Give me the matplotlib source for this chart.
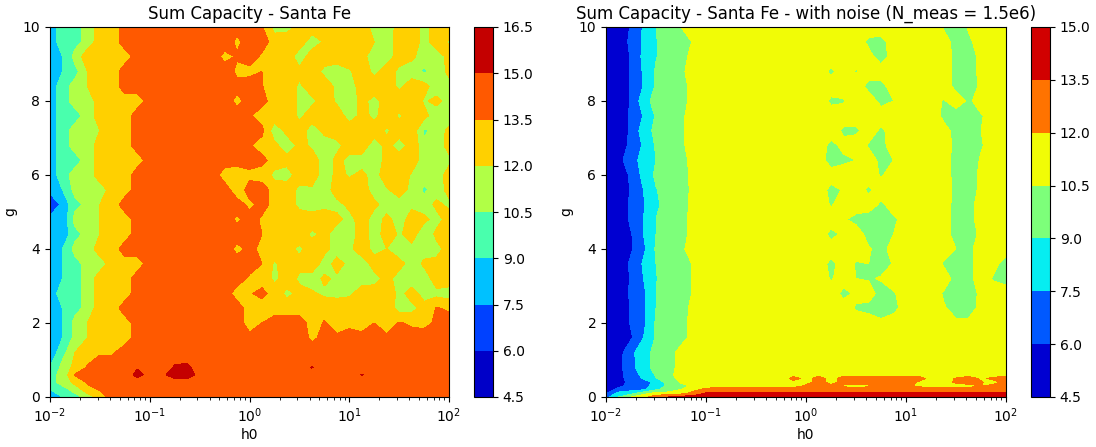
"""Sum capacity contour maps (Santa Fe), without and with measurement noise."""
import numpy as np
import matplotlib
matplotlib.use("Agg")
import matplotlib.pyplot as plt  # noqa: E402

h0_exp = [-2.0, -1.875, -1.75, -1.625, -1.5, -1.375, -1.25, -1.125, -1.0, -0.875, -0.75,
          -0.625, -0.5, -0.375, -0.25, -0.125, 0.0, 0.125, 0.25, 0.375, 0.5, 0.625, 0.75,
          0.875, 1.0, 1.125, 1.25, 1.375, 1.5, 1.625, 1.75, 1.875, 2.0]

levels_clean = [4.5, 6.0, 7.5, 9.0, 10.5, 12.0, 13.5, 15.0, 16.5]
levels_noisy = [4.5, 6.0, 7.5, 9.0, 10.5, 12.0, 13.5, 15.0]

g_clean = [10, 9.6, 9.2, 8.8, 8.4, 8.0, 7.6, 7.2, 6.8, 6.4, 6.0, 5.6, 5.2, 4.8, 4.4, 4.0,
           3.6, 3.2, 2.8, 2.4, 2.0, 1.6, 1.2, 0.8, 0.6, 0.4, 0.2, 0]
capacity_clean = [
    [8, 10, 10, 11, 13, 13, 14, 14, 14, 14, 14, 14, 14, 14, 14, 13.8, 14, 13.6, 11.3, 11.4, 12.5, 13, 13, 13, 12, 13, 11.2, 11.2, 12.6, 13, 11.3, 13, 13],
    [8, 10, 10, 11, 13, 13, 14, 14, 14, 14, 14, 14, 14, 14, 14, 13.3, 14, 14, 13, 13, 13, 11, 12.2, 13, 13, 13, 12, 11.4, 12.6, 13, 11.3, 13, 11.8],
    [8, 9, 11, 13, 13, 13, 13, 14, 14, 14, 14, 14, 14, 14, 13.2, 13.6, 14, 13.3, 13, 13, 11, 13, 13, 13, 13, 12.4, 11.3, 11, 13, 12.4, 11, 11, 12.6],
    [8, 9, 10, 12, 13, 13, 14, 14, 14, 14, 14, 14, 14, 14, 14, 13.3, 13.2, 13.5, 13, 13, 12.5, 13, 11.5, 11, 11.8, 13, 11.5, 13, 11.5, 11, 10.3, 11, 12.5],
    [8, 10, 11, 12, 13, 13, 14, 14, 14, 14, 14, 14, 14, 14, 14, 13.8, 14, 13.6, 11.9, 13, 11.7, 13, 13, 11.5, 11, 13, 13, 13, 11.6, 13, 12.6, 11, 11.2],
    [8, 10, 11, 11, 13, 13, 13, 13, 14, 14, 14, 14, 14, 14, 14, 13.2, 14, 13.8, 13, 13, 11.6, 11.5, 13, 11.7, 11, 12.5, 11.4, 12.8, 13, 13, 11.8, 12.5, 11],
    [8, 10, 10, 11, 13, 13, 13, 14, 14, 14, 14, 14, 14, 14, 14, 14, 13.6, 13, 13, 13, 11.6, 13, 13, 13, 11.2, 12.5, 11.6, 13, 11.7, 13, 12.5, 11, 10.5],
    [8, 10, 11, 11, 12, 13, 13, 14, 14, 14, 14, 14, 14, 14, 14, 14, 14, 13.8, 11, 12.5, 13, 11, 12.5, 13, 13, 13, 13, 11.7, 13, 13, 10.2, 11, 12.5],
    [8, 10, 11, 11, 13, 13, 13, 14, 14, 14, 14, 14, 14, 14, 14, 14, 13.6, 13, 12.4, 11, 12.5, 11.7, 11, 11.4, 13, 13, 11, 12.6, 11, 13, 11, 11.2, 12.6],
    [8, 10, 10, 11, 13, 13, 13, 13, 14, 14, 14, 14, 14, 14, 14, 14, 14, 13.8, 13, 12.6, 13, 13, 11, 12.5, 11.4, 11.3, 11, 12.6, 13, 13, 11, 11, 11.6],
    [8, 10, 11, 11, 13, 13, 13, 14, 14, 14, 14, 14, 14, 14, 13, 12.8, 13.2, 13, 11.5, 11.2, 13, 13, 11, 12.5, 11.8, 12.4, 11.3, 13, 13, 11.8, 11, 11.2, 12.7],
    [8, 9, 11, 11, 11, 13, 13, 14, 14, 14, 14, 14, 14, 14, 14, 12.8, 14, 14, 13, 13, 11.5, 11.7, 11, 13, 13, 13, 11, 11.8, 13, 11.3, 10.3, 11, 12.7],
    [6, 8, 10, 11, 12, 13, 14, 14, 14, 14, 14, 14, 14, 14, 14, 14, 13.2, 14, 13, 13, 11.5, 11, 11.5, 11.4, 12.5, 13, 12.5, 11, 11, 11.5, 11, 12.5, 11.5],
    [8, 8, 11, 11, 12, 13, 13, 14, 14, 14, 14, 14, 14, 14, 14, 13.3, 14, 13.3, 13, 11.9, 13, 13, 13, 12.5, 11.3, 13, 11, 12.6, 11, 13, 12.5, 11.2, 13],
    [8, 8, 10, 11, 12, 13, 13, 14, 14, 14, 14, 14, 14, 14, 14, 14, 14, 13.5, 11.9, 13, 13, 11.6, 12.5, 11, 11, 13, 11, 13, 11.7, 13, 10.4, 12.5, 13],
    [8, 9, 11, 11, 13, 13, 14, 14, 14, 14, 14, 14, 14, 14, 14, 13.2, 13.8, 13.2, 13, 12.6, 11.6, 13, 12.5, 11.3, 11.6, 13, 11.4, 12, 11, 11.4, 11.3, 11.3, 13],
    [8, 9, 10, 11, 11, 13, 13, 13, 14, 14, 14, 14, 14, 14, 14, 14, 14, 13.5, 11.7, 13, 12.6, 13, 11.2, 12.6, 11.5, 11, 12.8, 13, 12.6, 11.2, 12.3, 12.6, 13],
    [8, 9, 10, 11, 13, 13, 13, 14, 14, 14, 14, 14, 14, 14, 14, 14, 13.3, 13, 11.6, 13, 11.6, 11.3, 12.3, 11.7, 11, 11.2, 11.3, 12.6, 11.2, 11, 11, 13, 13],
    [8, 10, 10, 11, 13, 13, 13, 14, 14, 14, 14, 14, 14, 14, 14, 13, 13.4, 13.8, 13, 11.5, 12.6, 12.2, 11.7, 11.5, 11.7, 12.8, 13, 13, 11.5, 12.7, 11.3, 11.5, 11.2],
    [8, 9, 10, 11, 13, 13, 14, 14, 14, 14, 14, 14, 14, 14, 14, 14, 13, 13, 13, 13, 13, 13, 13, 13, 13, 13, 13, 13, 11.3, 11.5, 12.6, 13.6, 13.3],
    [8, 9, 11, 12, 13, 13, 13, 14, 14, 14, 14, 14, 14, 14, 14, 14, 13, 13.5, 14, 14, 14, 13, 13.6, 13, 13.2, 12.9, 13.5, 13, 13.6, 13.3, 13.2, 13.7, 14],
    [8, 9, 11, 12, 13, 13, 13, 14, 14, 14, 14, 14, 14, 14, 14, 14, 13.8, 14, 14, 13.7, 14, 13.3, 13.8, 13.7, 14, 13.9, 14, 13.7, 14, 14, 14, 14, 14],
    [8, 10, 12, 13, 13.4, 13.4, 14, 14, 14, 14, 14, 14, 14, 14, 14, 14, 14, 14, 14, 14, 14, 14, 14, 14, 14, 14, 14, 14, 14, 14, 14, 14, 14],
    [9, 11, 12.5, 13.6, 14, 14, 14, 14.8, 14, 14, 15.2, 15.4, 14, 14, 14, 14, 14, 14, 14, 14, 14, 15.1, 14, 14, 14, 14, 14, 14, 14, 14, 14, 14, 14],
    [10, 11, 13.6, 14, 14, 14, 14, 15.6, 14.2, 14.6, 16, 16, 14.2, 14, 14, 14, 14, 14, 14, 14, 14, 14, 14, 14, 14, 15.1, 14, 14, 14, 14, 14, 14, 14],
    [10, 11, 12.5, 13.7, 14, 14, 14, 14, 14, 14, 14, 14, 14, 14, 14, 14, 14, 14, 14, 14, 14, 14, 14, 14, 14, 14, 14, 14, 14, 14, 14, 14, 14],
    [9, 10, 11, 13, 13.6, 14, 14, 14, 14, 14, 14, 14, 14, 14, 14, 14, 14, 14, 14, 14, 14, 14, 14, 14, 14, 14, 14, 14, 14, 14, 14, 14, 14],
    [8, 9, 10, 11, 13, 14, 14, 14, 14, 14, 14, 14, 14, 14, 14, 14, 14, 14, 14, 14, 14, 14, 14, 14, 14, 14, 14, 14, 14, 14, 14, 14, 14],
]

g_noisy = [10, 9.6, 9.2, 8.8, 8.4, 8.0, 7.6, 7.2, 6.8, 6.4, 6.0, 5.6, 5.2, 4.8, 4.4, 4.0,
           3.6, 3.2, 2.8, 2.4, 2.0, 1.6, 1.2, 0.8, 0.6, 0.5, 0.4, 0.3, 0.2, 0.1, 0]
capacity_noisy = [
    [5, 5, 6.15, 7.7, 9, 10, 10.5, 10.8, 11, 11, 11, 11, 11, 11, 11, 11, 11, 11, 11, 11, 11, 11, 11, 11, 11, 11, 11, 10.4, 10, 10.6, 11, 11, 11],
    [5, 5, 6.4, 7.7, 8.9, 10, 10, 10.6, 11, 11, 11, 11, 11, 11, 11, 11, 11, 11, 11, 11, 11, 10.3, 10.2, 11, 11, 11, 11, 11, 10, 10.3, 11, 11, 11],
    [5, 5, 6.15, 7.9, 8.9, 10, 10, 11, 11, 11, 11, 11, 11, 11, 11, 11, 11, 11, 11, 11, 11, 10.8, 10, 11, 11, 11, 11, 11, 10.2, 10, 10.8, 11, 11],
    [5, 5, 6.15, 7.7, 9.2, 10, 10.3, 11, 11, 11, 11, 11, 11, 11, 11, 11, 11, 11, 10.3, 11, 10.4, 11, 11, 11, 11, 11, 11, 11, 10.2, 10, 10.8, 11, 11],
    [5, 5, 6.1, 7.6, 9.2, 10, 10, 11, 11, 11, 11, 11, 11, 11, 11, 11, 11, 11, 11, 11, 11, 10.2, 10.2, 11, 11, 11, 11, 11, 10.2, 10, 10.7, 11, 11],
    [5, 5, 6.15, 8.4, 9.6, 10, 10, 11, 11, 11, 11, 11, 11, 11, 11, 11, 11, 11, 10.3, 10.4, 11, 11, 10.2, 10.5, 11, 11, 11, 10.4, 11, 10.3, 11, 11, 11],
    [5, 5, 6.3, 7.6, 9.2, 10, 10.3, 11, 11, 11, 11, 11, 11, 11, 11, 11, 11, 11, 11, 11, 11, 11, 11, 11, 11, 11, 11, 10.3, 10, 10.2, 10.4, 11, 11],
    [5, 5, 6.3, 8.3, 9.4, 10, 10.3, 11, 11, 11, 11, 11, 11, 11, 11, 11, 11, 11, 11, 10.3, 10.3, 11, 10.3, 11, 11, 11, 11, 10.8, 10.2, 10, 10.5, 11, 11],
    [5, 5, 6.5, 7.7, 9.2, 10, 10.3, 11, 11, 11, 11, 11, 11, 11, 11, 11, 11, 11, 10.2, 10.8, 11, 10.4, 10.2, 11, 11, 11, 11, 11, 10.2, 10, 10.4, 11, 11],
    [5, 5.5, 7, 8, 9, 10, 10, 11, 11, 11, 11, 11, 11, 11, 11, 11, 11, 11, 10, 10.3, 10.5, 11, 10.2, 10.5, 11, 11, 11, 11, 10, 10, 10.6, 11, 11],
    [5, 5, 6.3, 8, 9.3, 10, 10, 10.9, 11, 11, 11, 11, 11, 11, 11, 11, 11, 11, 11, 11, 11, 11, 10.4, 11, 11, 11, 11, 11, 10.1, 10.1, 10.7, 11, 11],
    [5, 5, 6.15, 7.5, 8.9, 10, 10, 10.8, 11, 11, 11, 11, 11, 11, 11, 11, 11, 11, 10.2, 10.6, 11, 10.3, 11, 11, 11, 11, 11, 11, 10.2, 10.1, 10.7, 11, 11],
    [5, 5, 6.3, 7.4, 8.6, 10, 10, 10.9, 11, 11, 11, 11, 11, 11, 11, 11, 11, 11, 10.4, 11, 11, 11, 10.3, 11, 11, 11, 11, 11, 10.1, 10.1, 11, 11, 11],
    [5, 5, 6.3, 7.5, 9, 10, 10, 11, 11, 11, 11, 11, 11, 11, 11, 11, 11, 11, 11, 10.6, 10.2, 10, 10, 10.3, 11, 11, 11, 11, 10.1, 10.1, 11, 11, 11],
    [5, 5, 5.9, 7.5, 9, 10, 10, 11, 11, 11, 11, 11, 11, 11, 11, 11, 11, 11, 10.2, 10.7, 11, 10.1, 10, 10.5, 11, 11, 11, 11, 10, 10.1, 10.7, 11, 11],
    [5, 5, 5.8, 7.2, 9.2, 10, 10.3, 11, 11, 11, 11, 11, 11, 11, 11, 11, 11, 11, 11, 11, 11, 10.6, 10.1, 11, 11, 11, 11, 11, 10.5, 10.4, 10.7, 11, 11],
    [5, 5, 6.3, 7.7, 9, 10, 10, 10.6, 11, 11, 11, 11, 11, 11, 11, 11, 11, 11, 10.2, 11, 10.4, 10.5, 10, 10.6, 11, 11, 11, 10.4, 10, 10.2, 11, 10.8, 10],
    [5, 5, 6.15, 7.5, 8.9, 10, 10, 10.6, 11, 11, 11, 11, 11, 11, 11, 11, 11, 11, 10.4, 11, 10.5, 10.4, 10.6, 11, 11, 11, 11, 11, 10.1, 10.2, 11, 10.4, 10.1],
    [5, 5, 6.3, 7.2, 9, 10, 10, 10.6, 11, 11, 11, 11, 11, 11, 11, 11, 11, 11, 11, 10.2, 10.7, 11, 10, 10.4, 11, 11, 11, 10.4, 10, 10.1, 10.7, 11, 11],
    [5, 5, 6.1, 7.2, 9, 10, 10, 10.9, 11, 11, 11, 11, 11, 11, 11, 11, 11, 11, 11, 11, 10.4, 10.2, 10, 10.2, 11, 11, 11, 10.6, 10.1, 10.1, 10.8, 11, 11],
    [5, 5, 6.15, 7.2, 9.2, 10, 10, 11, 11, 11, 11, 11, 11, 11, 11, 11, 11, 11, 11, 11, 11, 11, 10.7, 11, 11, 11, 11, 11, 10.7, 10.7, 11, 11, 11],
    [5, 5, 5.8, 7.5, 9.2, 10, 10, 11, 11, 11, 11, 11, 11, 11, 11, 11, 11, 11, 11, 11, 11, 11, 11, 11, 11, 11, 11, 11, 11, 11, 11, 11, 11],
    [5, 5.4, 7.2, 8.3, 9.6, 10, 11, 11, 11, 11, 11, 11, 11, 11, 11, 11, 11, 11, 11, 11, 11, 11, 11, 11, 11, 11, 11, 11, 11, 11, 11, 11, 11],
    [5, 5.5, 7.2, 8.1, 9.8, 10, 11, 11, 11, 11, 11, 11, 11, 11, 11, 11, 11, 11, 11, 11, 11, 11, 11, 11, 11, 11, 11, 11, 11, 11, 11, 11, 11],
    [5, 5.4, 7, 7.8, 9.2, 10.2, 11, 11, 11, 11, 11, 11, 11, 11, 11, 11.4, 11, 11.5, 11, 11.5, 11.5, 11.5, 11.5, 11.5, 11.5, 11.5, 11, 11, 11.2, 11.5, 11.2, 11.4, 11.5],
    [5, 5.3, 7, 7.6, 8.9, 10, 10.9, 11, 11, 11, 11, 11, 11, 11, 11, 12.6, 11.5, 12.6, 11.5, 12.6, 12.6, 12.6, 12.6, 12.6, 12.6, 12.6, 11.5, 11.5, 12.1, 12.6, 11.8, 12.3, 12.6],
    [5, 5.2, 6.7, 7, 7.9, 9.7, 10.6, 11, 11, 11, 11, 11, 11, 11, 11, 11.3, 11.5, 12.6, 11.5, 12.6, 12.6, 12.6, 12.6, 12.6, 12.6, 11.8, 11.5, 11.5, 12.2, 12.6, 12.1, 11.5, 12.6],
    [5, 5.5, 6.8, 7, 8.2, 9.4, 10.2, 10.7, 11, 11.5, 11.5, 11.5, 11.5, 11.5, 11.5, 11.5, 12.2, 11.8, 12.2, 11.8, 11.5, 11.8, 12.3, 12.3, 12.3, 11.8, 11.5, 11.5, 11.5, 11.5, 12, 12.3, 12.3],
    [5, 6.5, 7, 7.3, 8.8, 9.6, 10.5, 11.5, 12.6, 12.6, 12.6, 12.6, 12.6, 12.6, 12.6, 12.6, 12.6, 12.6, 12.6, 12.6, 12.6, 12.6, 12.6, 12.6, 12.6, 12.6, 12.6, 12.6, 12.6, 12.6, 12.6, 12.6, 12.6],
    [6, 8, 8.5, 10, 11, 11, 11.5, 12.5, 13.6, 13.6, 13.6, 13.6, 13.6, 13.6, 13.6, 13.6, 13.6, 13.6, 13.6, 13.6, 13.6, 13.6, 13.6, 13.6, 13.6, 13.6, 13.6, 13.6, 13.6, 13.6, 13.6, 13.6, 13.6],
    [7, 9, 10.5, 11.5, 13, 13.5, 14, 14.2, 14.2, 14.2, 14.2, 14.2, 14.2, 14.2, 14.2, 14.2, 14.2, 14.2, 14.2, 14.2, 14.2, 14.2, 14.2, 14.2, 14.2, 14.2, 14.2, 14.2, 14.2, 14.2, 14.2, 14.2, 14.2],
]

W, H = 1096, 447


def px_axes(fig, x0, x1, y0, y1):
    """Axes from pixel edges (y measured from the top of the image)."""
    return fig.add_axes([x0 / W, 1 - y1 / H, (x1 - x0) / W, (y1 - y0) / H])


def draw_panel(fig, box, cbox, g, z, levels, title):
    ax = px_axes(fig, *box)
    cax = px_axes(fig, *cbox)
    h0 = 10.0 ** np.array(h0_exp)
    cs = ax.contourf(h0, np.array(g), np.array(z, dtype=float), levels=levels, cmap="jet")
    ax.set_xscale("log")
    ax.set_xlim(1e-2, 1e2)
    ax.set_ylim(0, 10)
    ax.set_xlabel("h0", labelpad=2)
    ax.set_ylabel("g", labelpad=4)
    ax.set_title(title, fontsize=12, pad=6)
    fig.colorbar(cs, cax=cax)


fig = plt.figure(figsize=(W / 100, H / 100), dpi=100)
draw_panel(fig, (50, 449, 27, 397), (474, 493, 27, 397), g_clean, capacity_clean,
           levels_clean, "Sum Capacity - Santa Fe")
draw_panel(fig, (606, 1006, 27, 397), (1031, 1050, 27, 397), g_noisy, capacity_noisy,
           levels_noisy, "Sum Capacity - Santa Fe - with noise (N_meas = 1.5e6)")
fig.savefig("out.png", dpi=100)
